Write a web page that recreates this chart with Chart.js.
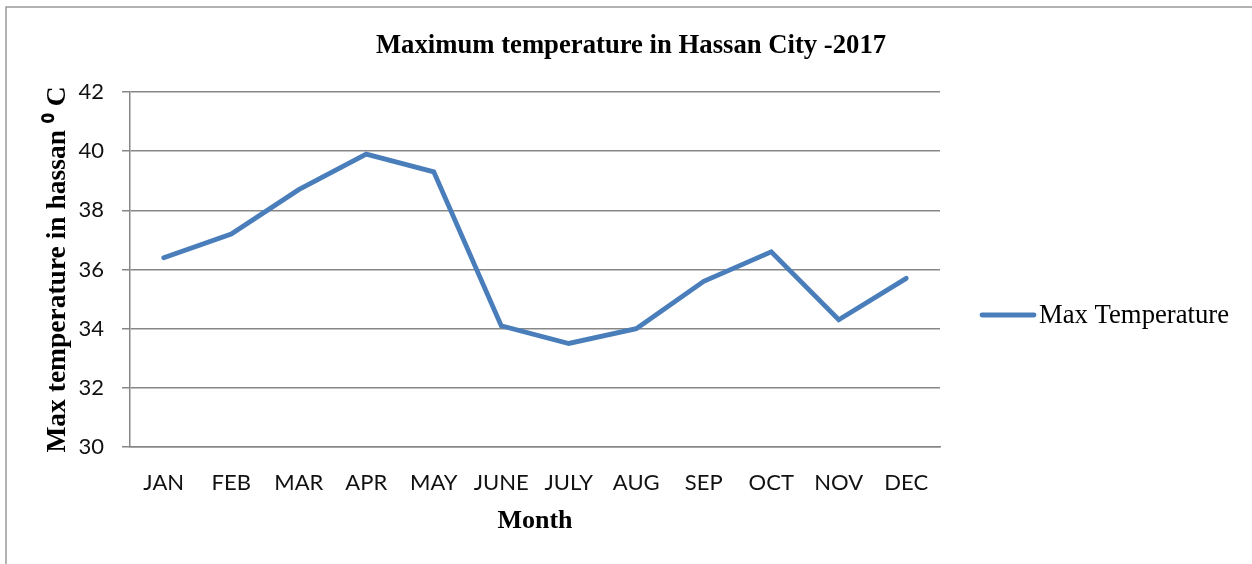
<!DOCTYPE html>
<html>
<head>
<meta charset="utf-8">
<title>Maximum temperature in Hassan City -2017</title>
<script src="https://cdn.jsdelivr.net/npm/chart.js@4.4.1/dist/chart.umd.min.js"></script>
<style>
  html, body { margin: 0; padding: 0; background: #fff; }
  #wrap { width: 1252px; height: 564px; }
</style>
</head>
<body>
<div id="wrap"><canvas id="chart" width="1252" height="564"></canvas></div>
<script>
// data
const months = ['JAN', 'FEB', 'MAR', 'APR', 'MAY', 'JUNE', 'JULY', 'AUG', 'SEP', 'OCT', 'NOV', 'DEC'];
const maxTemp = [36.4, 37.2, 38.7, 39.9, 39.3, 34.1, 33.5, 34.0, 35.6, 36.6, 34.3, 35.7];
const yMin = 30;
const yMax = 42;
const yStep = 2;

const TITLE = 'Maximum temperature in Hassan City -2017';
const SERIES = 'Max Temperature';
const Y_TITLE = 'Max temperature in hassan \u2070 C';
const X_TITLE = 'Month';

const LINE = '#4a7ebb';
const GRID = '#878787';
const SERIF = '"Liberation Serif", "Times New Roman", serif';
const SANS = 'Lato, Calibri, sans-serif';

// outer frame, chart title and the legend (drawn by hand so they sit where Excel put them)
const framePlugin = {
  id: 'frame',
  beforeDraw(chart) {
    const ctx = chart.ctx;
    ctx.save();
    ctx.fillStyle = '#fff';
    ctx.fillRect(0, 0, chart.width, chart.height);
    ctx.strokeStyle = '#999';
    ctx.lineWidth = 1.5;
    ctx.beginPath();
    ctx.moveTo(6, chart.height);
    ctx.lineTo(6, 7);
    ctx.lineTo(chart.width, 7);
    ctx.stroke();
    ctx.restore();
  },
  afterDraw(chart) {
    const ctx = chart.ctx;
    const ds = chart.data.datasets[0];
    ctx.save();
    ctx.fillStyle = '#000';
    ctx.font = 'bold 26.7px ' + SERIF;
    ctx.textAlign = 'center';
    ctx.textBaseline = 'alphabetic';
    ctx.fillText(TITLE, 631, 53);

    // legend
    ctx.strokeStyle = ds.borderColor;
    ctx.lineWidth = ds.borderWidth;
    ctx.lineCap = 'round';
    ctx.beginPath();
    ctx.moveTo(982, 315);
    ctx.lineTo(1034, 315);
    ctx.stroke();
    ctx.font = '26.7px ' + SERIF;
    ctx.textAlign = 'left';
    ctx.fillText(ds.label, 1039, 323);
    ctx.restore();
  },
};

new Chart(document.getElementById('chart'), {
  type: 'line',
  data: {
    labels: months,
    datasets: [{
      label: SERIES,
      data: maxTemp,
      borderColor: LINE,
      backgroundColor: LINE,
      borderWidth: 4.8,
      borderCapStyle: 'round',
      pointRadius: 0,
      pointHoverRadius: 0,
      tension: 0,
    }],
  },
  options: {
    responsive: false,
    animation: false,
    events: [],
    layout: { padding: { top: 92, right: 312, bottom: 0, left: 0 } },
    plugins: {
      legend: { display: false },
      title: { display: false },
      tooltip: { enabled: false },
    },
    scales: {
      x: {
        offset: true,
        grid: { display: false, drawTicks: false },
        border: { display: true, color: GRID, width: 1.5 },
        ticks: {
          color: '#111',
          font: { family: SANS, size: 22 },
          padding: 23,
          maxRotation: 0,
          autoSkip: false,
        },
        title: {
          display: true,
          text: X_TITLE,
          color: '#000',
          font: { family: SERIF, size: 26, weight: 'bold' },
          padding: { top: 0, bottom: 27 },
        },
        afterFit: s => { s.height = 117; },
      },
      y: {
        min: yMin,
        max: yMax,
        grid: { color: GRID, lineWidth: 1.5, drawTicks: true, tickLength: 8 },
        border: { display: true, color: GRID, width: 1.5 },
        ticks: {
          stepSize: yStep,
          color: '#111',
          font: { family: SANS, size: 22 },
          padding: 18,
        },
        title: {
          display: true,
          text: Y_TITLE,
          color: '#000',
          font: { family: SERIF, size: 27.5, weight: 'bold' },
          padding: { top: 41, bottom: 0 },
        },
        afterFit: s => { s.width = 130; },
      },
    },
  },
  plugins: [framePlugin],
});
</script>
</body>
</html>
